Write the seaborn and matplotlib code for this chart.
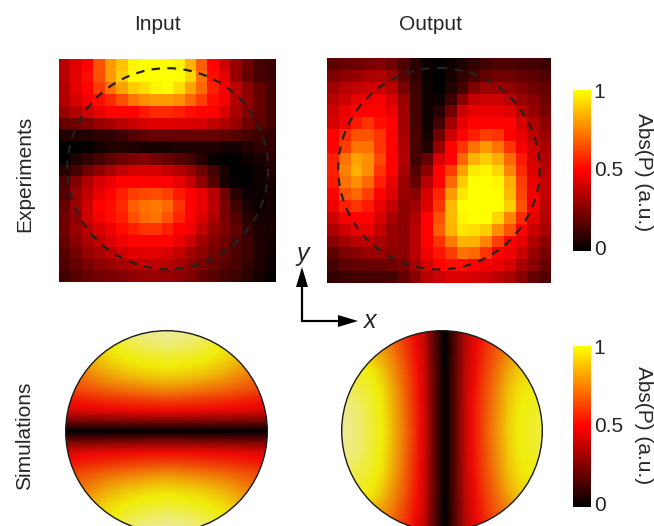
import numpy as np
import matplotlib
matplotlib.use("Agg")
import matplotlib.pyplot as plt
from matplotlib.colors import LinearSegmentedColormap, Normalize
from matplotlib.cm import ScalarMappable
from matplotlib.patches import Circle
import seaborn as sns

# measured amplitude, one row per scan line
input_exp = [
    [.36,.44,.50,.66,.80,.88,.98,1,1,1,.98,.85,.68,.50,.40,.30,.22,.14,.12],
    [.36,.44,.52,.66,.80,.90,1,1,1,1,1,.92,.72,.52,.45,.30,.20,.14,.12],
    [.35,.45,.50,.62,.72,.82,.90,.93,.98,1,.93,.82,.70,.56,.48,.37,.28,.20,.14],
    [.35,.42,.48,.52,.58,.65,.73,.78,.80,.80,.78,.70,.62,.52,.48,.35,.28,.20,.14],
    [.30,.35,.40,.45,.50,.50,.50,.55,.58,.58,.56,.52,.50,.50,.42,.33,.26,.20,.14],
    [.20,.22,.25,.30,.33,.36,.39,.42,.44,.44,.43,.43,.42,.38,.35,.30,.22,.18,.14],
    [.07,.07,.07,.09,.09,.12,.16,.18,.20,.20,.20,.20,.20,.20,.19,.17,.14,.12,.10],
    [0,0,.01,.04,.07,.07,.06,.05,.05,.05,.06,.06,.06,.06,.05,.04,.07,.10,.10],
    [0,.06,.10,.14,.18,.22,.24,.26,.22,.20,.17,.13,.08,.02,0,0,.03,.05,.08],
    [.08,.13,.22,.28,.33,.38,.42,.42,.42,.38,.35,.30,.22,.14,.05,0,0,.03,.06],
    [.15,.25,.35,.42,.46,.50,.50,.50,.50,.50,.45,.38,.28,.17,.05,.01,0,.03,.05],
    [.17,.30,.38,.46,.50,.56,.62,.64,.65,.62,.55,.50,.45,.36,.22,.08,.02,.03,.04],
    [.20,.30,.40,.50,.52,.58,.68,.72,.74,.70,.60,.50,.45,.36,.24,.13,.05,.03,.04],
    [.22,.28,.40,.48,.52,.56,.65,.70,.72,.66,.57,.50,.43,.34,.24,.17,.08,.05,.05],
    [.22,.30,.36,.42,.47,.52,.56,.60,.60,.56,.50,.47,.38,.30,.25,.19,.10,.06,.05],
    [.20,.27,.33,.38,.43,.47,.50,.50,.50,.50,.46,.40,.32,.26,.22,.16,.12,.06,.04],
    [.17,.23,.30,.33,.37,.40,.44,.44,.44,.42,.38,.32,.28,.23,.20,.15,.12,.06,.03],
    [.15,.20,.24,.28,.30,.33,.35,.37,.37,.36,.32,.28,.24,.20,.17,.14,.10,.06,.03],
    [.13,.17,.20,.22,.24,.26,.28,.30,.30,.30,.28,.25,.20,.17,.14,.12,.08,.05,.01],
]
output_exp = [
    [.18,.20,.22,.24,.26,.22,.15,.08,.02,0,.03,.06,.10,.13,.15,.15,.14,.13,.12],
    [.25,.28,.30,.33,.34,.30,.18,.10,.02,0,.05,.10,.14,.20,.22,.22,.20,.18,.16],
    [.32,.36,.38,.40,.40,.36,.24,.12,.03,0,.07,.14,.25,.30,.30,.28,.26,.22,.20],
    [.36,.40,.45,.47,.48,.42,.30,.13,.03,.03,.12,.27,.38,.40,.40,.36,.30,.27,.22],
    [.40,.46,.50,.50,.50,.46,.32,.14,.03,.08,.22,.40,.45,.46,.46,.43,.36,.30,.24],
    [.42,.47,.55,.60,.53,.50,.32,.14,.03,.13,.32,.45,.50,.50,.50,.50,.42,.35,.28],
    [.50,.58,.66,.66,.60,.50,.33,.15,.05,.22,.40,.50,.56,.62,.60,.50,.45,.37,.30],
    [.50,.62,.72,.72,.60,.50,.34,.14,.07,.30,.50,.60,.72,.80,.72,.60,.48,.40,.33],
    [.56,.72,.82,.78,.64,.50,.35,.13,.20,.42,.50,.70,.85,.90,.84,.70,.55,.42,.35],
    [.56,.75,.84,.78,.60,.50,.33,.17,.28,.50,.62,.82,.96,.98,.92,.76,.58,.43,.36],
    [.55,.72,.78,.70,.56,.45,.30,.20,.36,.50,.70,.90,1,1,.98,.84,.62,.46,.38],
    [.50,.66,.70,.62,.50,.43,.30,.27,.42,.57,.80,.95,1,1,1,.86,.63,.48,.38],
    [.47,.56,.60,.55,.46,.38,.28,.32,.44,.60,.86,1,1,1,1,.90,.66,.48,.37],
    [.40,.48,.50,.50,.42,.33,.28,.35,.50,.66,.86,.98,1,1,.92,.76,.58,.45,.35],
    [.34,.40,.46,.45,.38,.30,.28,.37,.50,.68,.85,.95,.93,.90,.78,.66,.50,.40,.33],
    [.27,.32,.36,.37,.33,.30,.28,.37,.50,.60,.74,.85,.85,.76,.62,.50,.45,.35,.28],
    [.18,.24,.27,.30,.30,.28,.28,.37,.47,.54,.62,.72,.70,.60,.50,.47,.40,.30,.24],
    [.14,.18,.20,.20,.20,.22,.25,.33,.42,.50,.53,.52,.50,.48,.46,.42,.33,.27,.20],
    [.10,.12,.13,.13,.14,.14,.20,.27,.36,.40,.43,.43,.42,.40,.37,.33,.27,.20,.16],
]

# simulated amplitude: upper half of the input disc, centre column to the rim
input_sim_top = [
    [1.18,1.17,1.14,1.04,.92,.80],
    [1.17,1.15,1.11,1.02,.91,.80],
    [1.12,1.10,1.05,.98,.88,.78],
    [1.04,1.03,1.00,.94,.85,.76],
    [.99,.97,.94,.88,.80,.72],
    [.90,.88,.85,.80,.73,.67],
    [.78,.76,.73,.70,.66,.62],
    [.63,.62,.60,.58,.55,.52],
    [.50,.50,.49,.48,.47,.45],
    [.27,.27,.26,.26,.25,.25],
    [0,0,0,0,0,0],
]
# output disc: upper half, middle line first, left to right
output_sim_top = [
    [1.18,1.16,1.12,1.06,1.00,.88,.75,.60,.45,.20,0,.20,.42,.55,.68,.80,.92,1.00,1.03,1.06,1.08],
    [1.17,1.15,1.11,1.05,.99,.87,.74,.59,.45,.20,0,.20,.42,.55,.67,.79,.91,.99,1.02,1.05,1.07],
    [1.12,1.10,1.07,1.03,.97,.85,.72,.58,.44,.20,0,.20,.41,.54,.66,.77,.89,.97,1.00,1.02,1.03],
    [1.03,1.03,1.02,.99,.91,.80,.69,.56,.43,.20,0,.20,.40,.52,.63,.73,.84,.92,.96,.98,1.00],
    [.92,.92,.90,.88,.82,.74,.64,.53,.42,.19,0,.19,.39,.50,.60,.68,.76,.84,.88,.90,.92],
    [.85,.85,.83,.80,.75,.68,.60,.50,.40,.18,0,.18,.38,.47,.56,.63,.70,.76,.80,.83,.85],
]
cbar_ticks = [0, 0.5, 1]
cbar_labels = ["0", "0.5", "1"]

W, H = 654, 526
FS = 15

sns.set_style("white")
plt.rcParams["font.family"] = ["Liberation Sans", "DejaVu Sans"]

exp_cmap = LinearSegmentedColormap.from_list("exp", ["#000000", "#ff0000", "#ffff00"])
sim_cmap = LinearSegmentedColormap.from_list(
    "sim", [(0, "#000000"), (.5 / 1.18, "#f00a05"), (1 / 1.18, "#f0ee0a"), (1, "#eeeb96")])


def box(x0, y0, x1, y1):
    # axes from pixel corners, y counted from the top
    return fig.add_axes([x0 / W, 1 - y1 / H, (x1 - x0) / W, (y1 - y0) / H])


def style_cbar(cax):
    cax.set_yticks([.02, .513, 1.0])
    cax.set_yticklabels(cbar_labels, fontsize=FS)
    cax.tick_params(length=0, pad=2, left=False, right=False)
    for s in cax.spines.values():
        s.set_visible(False)


fig = plt.figure(figsize=(W / 100, H / 100), dpi=100)

top_cax = box(573, 90, 591, 251)
sns.heatmap(np.array(input_exp), ax=box(59, 59, 276, 282), cmap=exp_cmap, vmin=0, vmax=1,
            xticklabels=False, yticklabels=False, cbar_ax=top_cax, cbar_kws={"ticks": cbar_ticks})
sns.heatmap(np.array(output_exp), ax=box(327, 58, 551, 283), cmap=exp_cmap, vmin=0, vmax=1,
            xticklabels=False, yticklabels=False, cbar=False)
style_cbar(top_cax)

low_cax = box(573, 346, 591, 507)
fig.colorbar(ScalarMappable(Normalize(0, 1), exp_cmap), cax=low_cax, ticks=cbar_ticks)
style_cbar(low_cax)

# everything else lives on a transparent canvas counted in pixels
ov = fig.add_axes([0, 0, 1, 1])
ov.axis("off")

input_sim = np.array(input_sim_top)
input_sim = np.hstack([input_sim[:, :0:-1], input_sim])
input_sim = np.vstack([input_sim, input_sim[-2::-1]])
output_sim = np.array(output_sim_top)
output_sim = np.vstack([output_sim[:0:-1], output_sim])

sims = [(input_sim, 166.5, 431.5, 100.8, 0), (output_sim, 442, 431, 100.3, 3)]
for data, cx, cy, r, shift in sims:
    im = ov.imshow(data, cmap=sim_cmap, vmin=0, vmax=1.18, interpolation="bilinear",
                   extent=(cx + shift - 110, cx + shift + 110, cy + 110, cy - 110), aspect="auto")
    clip = Circle((cx, cy), r, transform=ov.transData)
    im.set_clip_path(clip)
    ov.add_patch(Circle((cx, cy), r, fill=False, ec="#1a1a1a", lw=1))

for cx, cy, r in [(167.7, 168.7, 100.5), (439, 168.7, 100.8)]:
    ov.add_patch(Circle((cx, cy), r, fill=False, ec="#222222", lw=1.6, ls=(0, (3.8, 3.3))))

ov.arrow(302, 322, 0, -55, width=2.2, head_width=12, head_length=20, length_includes_head=True,
         color="black", lw=0)
ov.arrow(301, 321, 57, 0, width=2.2, head_width=12, head_length=20, length_includes_head=True,
         color="black", lw=0)
ov.text(303, 254, "y", fontsize=18, style="italic", ha="center", va="center")
ov.text(370, 321, "x", fontsize=18, style="italic", ha="center", va="center")

ov.text(157, 24, "Input", fontsize=FS, ha="center", va="center")
ov.text(431, 24, "Output", fontsize=FS, ha="center", va="center")
ov.text(25, 174, "Experiments", fontsize=FS, rotation=90, ha="center", va="center")
ov.text(25, 436, "Simulations", fontsize=FS, rotation=90, ha="center", va="center")
ov.text(643, 172, "Abs(P) (a.u.)", fontsize=FS, rotation=270, ha="center", va="center")
ov.text(643, 425, "Abs(P) (a.u.)", fontsize=FS, rotation=270, ha="center", va="center")

ov.set_xlim(0, W)
ov.set_ylim(H, 0)

fig.savefig("out.png", dpi=100)
